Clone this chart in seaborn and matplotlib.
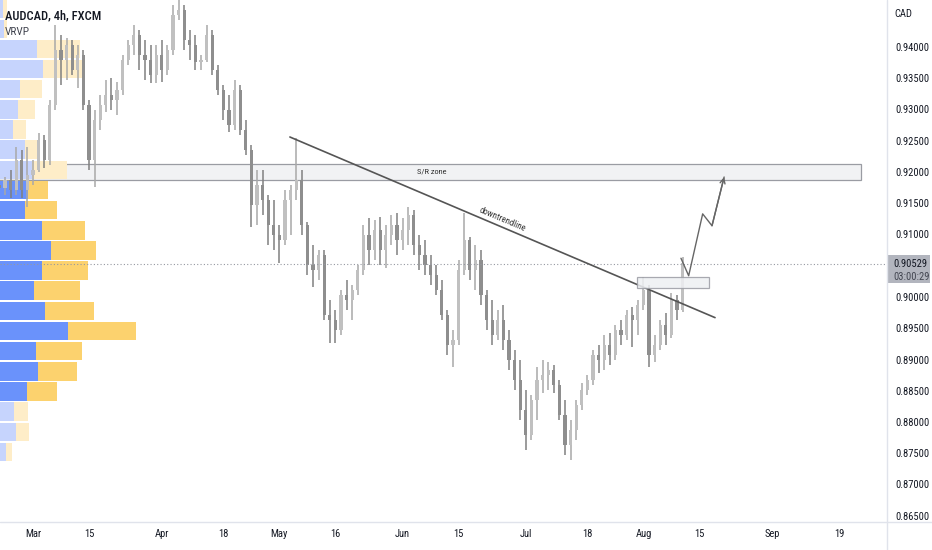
import numpy as np
import pandas as pd
import matplotlib
matplotlib.use("Agg")
import matplotlib.pyplot as plt
import seaborn as sns
from matplotlib import font_manager as fm
from matplotlib.patches import Rectangle
from matplotlib.lines import Line2D
from matplotlib.ticker import FormatStrFormatter

# ---------------- data ----------------
candle_dates = pd.bdate_range("2022-02-21", "2022-08-10")

opens = [0.9179, 0.9174, 0.9187, 0.9171, 0.9219, 0.9171,
         0.9195, 0.9203, 0.9251, 0.9219, 0.9307, 0.9395, 0.9379, 0.9403, 0.9363, 0.9387,
         0.9307, 0.9219, 0.9283, 0.9307, 0.9323, 0.9315, 0.9331, 0.9379, 0.9403, 0.9419,
         0.9387, 0.9379, 0.9355, 0.9387, 0.9363, 0.9395, 0.9451, 0.9459, 0.9411, 0.9403,
         0.9376, 0.9379, 0.9419, 0.9363, 0.9331, 0.9299, 0.9275, 0.9331, 0.9267, 0.9235,
         0.9147, 0.9179, 0.9155, 0.9115, 0.9099, 0.9091, 0.9155, 0.9171, 0.9187, 0.9115,
         0.9051, 0.9043, 0.9067, 0.8971, 0.8963, 0.8947, 0.9003, 0.8995, 0.9011, 0.9043,
         0.9099, 0.9075, 0.9107, 0.9075, 0.9099, 0.9115, 0.9091, 0.9107, 0.9131, 0.9083,
         0.9067, 0.9051, 0.9035, 0.9011, 0.8971, 0.8923, 0.8931, 0.9043, 0.9091, 0.9043,
         0.9059, 0.9003, 0.8963, 0.8939, 0.8963, 0.8931, 0.8899, 0.8867, 0.8819, 0.8779,
         0.8835, 0.8867, 0.8875, 0.8883, 0.8859, 0.8811, 0.8763, 0.8787, 0.8827, 0.8851,
         0.8867, 0.8907, 0.8899, 0.8923, 0.8907, 0.8947, 0.8939, 0.8971, 0.8963, 0.8987,
         0.9011, 0.8907, 0.8923, 0.8955, 0.8939, 0.8995, 0.8979]

highs = [0.9190, 0.9192, 0.9203, 0.9240, 0.9235, 0.9240,
         0.9219, 0.9262, 0.9259, 0.9315, 0.9435, 0.9419, 0.9414, 0.9411, 0.9403, 0.9395,
         0.9315, 0.9299, 0.9323, 0.9347, 0.9350, 0.9344, 0.9387, 0.9411, 0.9435, 0.9427,
         0.9411, 0.9403, 0.9403, 0.9411, 0.9403, 0.9467, 0.9478, 0.9467, 0.9427, 0.9419,
         0.9387, 0.9435, 0.9427, 0.9371, 0.9339, 0.9323, 0.9347, 0.9339, 0.9283, 0.9243,
         0.9203, 0.9203, 0.9163, 0.9155, 0.9115, 0.9171, 0.9179, 0.9254, 0.9203, 0.9120,
         0.9083, 0.9075, 0.9075, 0.8995, 0.8979, 0.9011, 0.9027, 0.9019, 0.9051, 0.9115,
         0.9126, 0.9123, 0.9128, 0.9115, 0.9131, 0.9134, 0.9126, 0.9144, 0.9139, 0.9099,
         0.9091, 0.9067, 0.9051, 0.9027, 0.8979, 0.8947, 0.9059, 0.9134, 0.9096, 0.9083,
         0.9075, 0.9011, 0.8995, 0.8979, 0.8987, 0.8947, 0.8915, 0.8899, 0.8851, 0.8843,
         0.8888, 0.8899, 0.8896, 0.8891, 0.8867, 0.8835, 0.8803, 0.8835, 0.8862, 0.8875,
         0.8915, 0.8923, 0.8939, 0.8942, 0.8955, 0.8963, 0.8979, 0.8984, 0.8995, 0.9032,
         0.9019, 0.8939, 0.8963, 0.8974, 0.9006, 0.9003, 0.9064]

lows = [0.9168, 0.9163, 0.9158, 0.9163, 0.9158, 0.9144,
        0.9179, 0.9200, 0.9206, 0.9211, 0.9299, 0.9339, 0.9347, 0.9355, 0.9334, 0.9299,
        0.9203, 0.9176, 0.9267, 0.9296, 0.9299, 0.9291, 0.9323, 0.9371, 0.9387, 0.9363,
        0.9347, 0.9342, 0.9342, 0.9344, 0.9355, 0.9387, 0.9443, 0.9395, 0.9379, 0.9363,
        0.9363, 0.9376, 0.9355, 0.9323, 0.9283, 0.9264, 0.9267, 0.9259, 0.9227, 0.9112,
        0.9115, 0.9131, 0.9083, 0.9075, 0.9054, 0.9083, 0.9099, 0.9155, 0.9099, 0.9035,
        0.9016, 0.9027, 0.8963, 0.8926, 0.8926, 0.8939, 0.8979, 0.8963, 0.9003, 0.9035,
        0.9051, 0.9059, 0.9051, 0.9046, 0.9083, 0.9067, 0.9075, 0.9083, 0.9067, 0.9043,
        0.9035, 0.9019, 0.9003, 0.8963, 0.8907, 0.8888, 0.8923, 0.9035, 0.9027, 0.9011,
        0.8987, 0.8947, 0.8923, 0.8931, 0.8915, 0.8883, 0.8851, 0.8803, 0.8755, 0.8771,
        0.8803, 0.8846, 0.8851, 0.8846, 0.8803, 0.8747, 0.8739, 0.8771, 0.8819, 0.8843,
        0.8859, 0.8878, 0.8883, 0.8891, 0.8899, 0.8923, 0.8931, 0.8920, 0.8939, 0.8979,
        0.8888, 0.8896, 0.8915, 0.8923, 0.8934, 0.8963, 0.8976]

closes = [0.9174, 0.9187, 0.9171, 0.9219, 0.9171, 0.9195,
          0.9203, 0.9251, 0.9219, 0.9307, 0.9395, 0.9379, 0.9403, 0.9363, 0.9387, 0.9307,
          0.9219, 0.9283, 0.9307, 0.9323, 0.9315, 0.9331, 0.9379, 0.9403, 0.9419, 0.9387,
          0.9379, 0.9355, 0.9387, 0.9363, 0.9395, 0.9451, 0.9459, 0.9411, 0.9403, 0.9376,
          0.9379, 0.9419, 0.9363, 0.9331, 0.9299, 0.9275, 0.9331, 0.9267, 0.9235, 0.9147,
          0.9179, 0.9155, 0.9115, 0.9099, 0.9091, 0.9155, 0.9171, 0.9187, 0.9115, 0.9051,
          0.9043, 0.9067, 0.8971, 0.8963, 0.8947, 0.9003, 0.8995, 0.9011, 0.9043, 0.9099,
          0.9075, 0.9107, 0.9075, 0.9099, 0.9115, 0.9091, 0.9107, 0.9131, 0.9083, 0.9067,
          0.9051, 0.9035, 0.9011, 0.8971, 0.8923, 0.8931, 0.9043, 0.9091, 0.9043, 0.9059,
          0.9003, 0.8963, 0.8939, 0.8963, 0.8931, 0.8899, 0.8867, 0.8819, 0.8779, 0.8835,
          0.8867, 0.8875, 0.8883, 0.8859, 0.8811, 0.8763, 0.8787, 0.8827, 0.8851, 0.8867,
          0.8907, 0.8899, 0.8923, 0.8907, 0.8947, 0.8939, 0.8971, 0.8963, 0.8987, 0.9011,
          0.8907, 0.8923, 0.8955, 0.8939, 0.8995, 0.8979, 0.90529]

# volume profile (VRVP), rows from bottom price bin upward
vp_low = 0.8736
vp_step = 0.003224
vol_up = [6, 16, 14, 27, 38, 36, 68, 45, 34, 42, 51, 42, 25, 28, 32, 25, 13, 18, 20, 43, 37, 4, 3]
vol_down = [6, 13, 14, 30, 39, 46, 68, 49, 46, 46, 45, 43, 32, 20, 35, 15, 13, 17, 22, 40, 43, 3, 4]
value_area_rows = (3, 13)

# drawings
sr_zone = (0.9187, 0.9213)
sr_zone_dates = ("2022-02-17", "2022-09-22 22:00")
trend_dates = ["2022-05-03 21:00", "2022-08-17 19:00"]
trend_prices = [0.9256, 0.8967]
box_dates = ("2022-07-28 22:00", "2022-08-16 17:00")
box_prices = (0.9014, 0.9032)
arrow_dates = ["2022-08-09 17:00", "2022-08-11 02:00", "2022-08-15 14:00",
               "2022-08-17 06:00", "2022-08-19 10:00"]
arrow_prices = [0.9062, 0.9034, 0.9133, 0.9114, 0.9192]
last_price = 0.90529
countdown = "03:00:29"

tick_dates = ["2022-03-01", "2022-03-15", "2022-04-01", "2022-04-18", "2022-05-02",
              "2022-05-16", "2022-06-01", "2022-06-15", "2022-07-01", "2022-07-18",
              "2022-08-01", "2022-08-15", "2022-09-01", "2022-09-19"]
tick_labels = ["Mar", "15", "Apr", "18", "May", "16", "Jun", "15", "Jul", "18",
               "Aug", "15", "Sep", "19"]
price_ticks = [0.865, 0.870, 0.875, 0.880, 0.885, 0.890, 0.895, 0.900,
               0.910, 0.915, 0.920, 0.925, 0.930, 0.935, 0.940]

# ---------------- helpers ----------------
ORIGIN = np.datetime64("2022-02-21")


def bpos(s):
    ts = pd.Timestamp(s)
    return float(np.busday_count(ORIGIN, np.datetime64(ts.date()))) + ts.hour / 24.0


# ---------------- fonts ----------------
sns.set_theme(style="white")
entries = fm.fontManager.ttflist
names = {f.name for f in entries}
narrow = None
stretch = "normal"
for cand in ["Liberation Sans Narrow", "Roboto Condensed", "Open Sans Condensed",
             "Noto Sans Condensed", "DejaVu Sans Condensed"]:
    if cand in names:
        narrow = cand
        break
if narrow is None:
    for f in entries:
        if f.name in ("DejaVu Sans", "Noto Sans", "Roboto", "Open Sans") and \
                str(f.stretch) in ("condensed", "semi-condensed", "extra-condensed", "75", "87.5"):
            narrow = f.name
            stretch = "condensed"
            break
if narrow is None:
    narrow = "Liberation Sans"
    scale = 0.88
else:
    scale = 1.0
plt.rcParams["font.family"] = [narrow, "DejaVu Sans"]
plt.rcParams["font.stretch"] = stretch

# ---------------- figure ----------------
W, H = 932, 550
fig = plt.figure(figsize=(W / 100, H / 100), dpi=100)
fig.patch.set_facecolor("white")
AX_W, AX_H = 887, 522
ax = fig.add_axes([0, (H - AX_H) / H, AX_W / W, AX_H / H])
ax.set_facecolor("white")

x = np.array([bpos(d) for d in candle_dates])
o = np.array(opens); h = np.array(highs); l = np.array(lows); c = np.array(closes)
up = c >= o

# S/R zone (under the volume profile)
z0, z1 = bpos(sr_zone_dates[0]), bpos(sr_zone_dates[1])
ax.add_patch(Rectangle((z0, sr_zone[0]), z1 - z0, sr_zone[1] - sr_zone[0],
                       facecolor="#f1f2f4", edgecolor="#9a9ca3", lw=0.9, zorder=1))

# volume profile bars (x in axes fraction)
vmax = max(u + d for u, d in zip(vol_up, vol_down))
frac = (136 / AX_W) / vmax
for k, (vu, vd) in enumerate(zip(vol_up, vol_down)):
    inside = value_area_rows[0] <= k <= value_area_rows[1]
    cu = "#6a92fb" if inside else "#c6d4fd"
    cd = "#fcd26e" if inside else "#feedc8"
    yb = vp_low + k * vp_step + vp_step * 0.04
    hh = vp_step * 0.92
    ax.add_patch(Rectangle((0, yb), vu * frac, hh, transform=ax.get_yaxis_transform(),
                           facecolor=cu, edgecolor="none", zorder=2))
    ax.add_patch(Rectangle((vu * frac, yb), vd * frac, hh, transform=ax.get_yaxis_transform(),
                           facecolor=cd, edgecolor="none", zorder=2))

# candles
ax.vlines(x, l, h, colors=np.where(up, "#a8a8a8", "#808080"), lw=1.1, zorder=3)
ax.bar(x, np.abs(c - o) + 0.00008, bottom=np.minimum(o, c), width=0.6,
       color=np.where(up, "#c0c0c0", "#8e8e8e"), edgecolor="none", zorder=3)

# current price dotted line
ax.axhline(last_price, color="#9598a1", lw=0.8, ls=(0, (1, 2)), zorder=4)

# trend line
tx = [bpos(d) for d in trend_dates]
sns.lineplot(x=tx, y=trend_prices, ax=ax, color="#555555", lw=1.2, zorder=5)

# small breakout box
b0, b1 = bpos(box_dates[0]), bpos(box_dates[1])
ax.add_patch(Rectangle((b0, box_prices[0]), b1 - b0, box_prices[1] - box_prices[0],
                       facecolor="#eef0f3", edgecolor="#9a9ca3", lw=0.9, alpha=0.85, zorder=5))

# projection arrow
axp = [bpos(d) for d in arrow_dates]
sns.lineplot(x=axp, y=arrow_prices, ax=ax, color="#666666", lw=1.0, sort=False, zorder=6)
ax.annotate("", xy=(axp[-1], arrow_prices[-1]), xytext=(axp[-2], arrow_prices[-2]),
            arrowprops=dict(arrowstyle="->", color="#666666", lw=1.0,
                            shrinkA=0, shrinkB=0, mutation_scale=9), zorder=6)

# limits
ax.set_xlim(6 - 33 / 5.6, 6 + 854 / 5.6)
ax.set_ylim(0.864, 0.94752)

# labels on drawings
xm = bpos("2022-06-24 22:00")
ym = np.interp(xm, tx, trend_prices)
p0 = ax.transData.transform((tx[0], trend_prices[0]))
p1 = ax.transData.transform((tx[1], trend_prices[1]))
ang = np.degrees(np.arctan2(p1[1] - p0[1], p1[0] - p0[0]))
ax.text(bpos("2022-06-08 06:00"), 0.9200, "S/R zone", fontsize=6.0 * scale, color="#333333",
        ha="center", va="center", zorder=7)
ax.annotate("downtrendline", xy=(xm, ym), xytext=(0, 6), textcoords="offset points",
            fontsize=6.4 * scale, color="#333333", ha="center", va="center",
            rotation=ang, rotation_mode="anchor", zorder=7)

# axes styling
for s in ax.spines.values():
    s.set_visible(False)
ax.grid(False)
ax.yaxis.tick_right()
ax.set_yticks(price_ticks)
ax.yaxis.set_major_formatter(FormatStrFormatter("%.5f"))
ax.tick_params(axis="y", length=0, pad=6, labelsize=7.6 * scale, labelcolor="#131722")
ax.set_xticks([bpos(d) for d in tick_dates])
ax.set_xticklabels(tick_labels)
ax.tick_params(axis="x", length=0, pad=5, labelsize=7.6 * scale, labelcolor="#131722")
ax.set_xlabel(""); ax.set_ylabel("")

# price label box on the scale
tr = ax.get_yaxis_transform()
ax.add_patch(Rectangle((1.0, 0.9023), 43 / AX_W, 0.9067 - 0.9023, transform=tr,
                       facecolor="#b2b5be", edgecolor="none", clip_on=False, zorder=8))
ax.text(1.0 + 6 / AX_W, last_price, f"{last_price:.5f}", transform=tr, fontsize=7.6 * scale,
        color="#131722", va="center", ha="left", clip_on=False, zorder=9)
ax.text(1.0 + 6 / AX_W, 0.90328, countdown, transform=tr, fontsize=7.6 * scale,
        color="#434651", va="center", ha="left", clip_on=False, zorder=9)

# currency label, title, indicator name
fig.text(894 / W, 1 - 14 / H, "CAD", fontsize=7.6 * scale, color="#131722",
         va="center", ha="left")
fig.text(5 / W, 1 - 16 / H, "AUDCAD, 4h, FXCM", fontsize=9 * scale, color="#131722",
         va="center", ha="left", fontweight="medium")
fig.text(5 / W, 1 - 32 / H, "VRVP", fontsize=8.2 * scale, color="#434651",
         va="center", ha="left")

# panel separators
fig.add_artist(Line2D([AX_W / W] * 2, [0, 1], transform=fig.transFigure, color="#e0e3eb", lw=1))
fig.add_artist(Line2D([0, 1], [(H - AX_H) / H] * 2, transform=fig.transFigure,
                      color="#e0e3eb", lw=1))

fig.savefig("out.png", dpi=100)
